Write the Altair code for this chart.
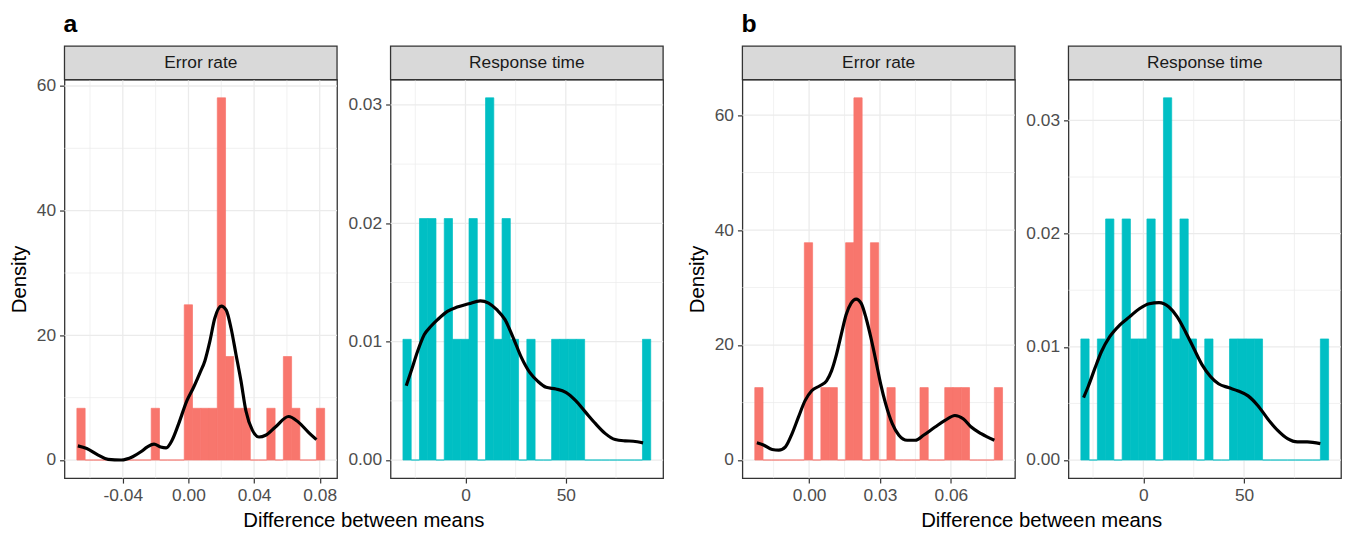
import altair as alt
import numpy as np
import pandas as pd

FONT = "Liberation Sans"
RED = "#F8766D"
TEAL = "#00BFC4"

# ---------------- data ----------------
facets = ["Error rate", "Response time"]
tags = ["a", "b"]
x_title = "Difference between means"
y_title = "Density"

# histogram: [first bin edge, last bin edge] (30 bins) and density height of each bin
a_err_range = [-0.0680, 0.0830]
a_err_heights = [8.3, 0, 0, 0, 0, 0, 0, 0, 0, 8.3, 0, 0, 0, 24.9, 8.3, 8.3, 8.3, 58.1, 16.6,
                 8.3, 8.3, 0, 0, 8.3, 0, 16.6, 8.3, 0, 0, 8.3]
a_rt_range = [-31.15, 92.3]
a_rt_heights = [0.0102, 0, 0.0204, 0.0204, 0, 0.0204, 0.0102, 0.0102, 0.0204, 0, 0.0306, 0.0102,
                0.0204, 0.0102, 0, 0.0102, 0, 0, 0.0102, 0.0102, 0.0102, 0.0102, 0, 0, 0, 0, 0, 0, 0,
                0.0102]
b_err_range = [-0.02297, 0.08186]
b_err_heights = [12.6, 0, 0, 0, 0, 0, 37.8, 0, 12.6, 12.6, 0, 37.8, 63.0, 0, 37.8, 0, 12.6, 0, 0, 0,
                 12.6, 0, 0, 12.6, 12.6, 12.6, 0, 0, 0, 12.6]
b_rt_range = [-31.05, 92.0]
b_rt_heights = [0.0107, 0, 0.0107, 0.0213, 0, 0.0213, 0.0107, 0.0107, 0.0213, 0, 0.0320, 0.0107,
                0.0213, 0.0107, 0, 0.0107, 0, 0, 0.0107, 0.0107, 0.0107, 0.0107, 0, 0, 0, 0, 0, 0, 0,
                0.0107]

# density curves
a_err_cx = [-0.0674, -0.062, -0.055, -0.049, -0.041, -0.034, -0.029, -0.025, -0.021, -0.017, -0.0136,
            -0.010, -0.006, -0.001, 0.003, 0.007, 0.010, 0.013, 0.016, 0.020, 0.023, 0.026, 0.029,
            0.032, 0.035, 0.039, 0.043, 0.047, 0.053, 0.061, 0.067, 0.073, 0.078]
a_err_cy = [2.27, 1.85, 0.79, 0.10, 0.0, 0.53, 1.32, 2.10, 2.54, 2.10, 1.96, 3.17, 5.8, 9.5, 11.6,
            14.0, 15.9, 19.0, 22.7, 24.7, 24.05, 21.1, 16.9, 12.7, 7.9, 4.76, 3.7, 3.97, 5.3, 6.98,
            6.08, 4.49, 3.28]
a_rt_cx = [-29.5, -27.0, -23.8, -20.5, -17.2, -13.9, -9.0, -4.1, 1.6, 7.4, 11.5, 15.6, 19.7, 23.8,
           27.9, 32.0, 36.1, 40.2, 45.1, 50.0, 54.9, 59.8, 64.8, 69.7, 74.6, 79.5, 83.6, 88.5]
a_rt_cy = [0.00628, 0.00754, 0.00921, 0.0106, 0.0113, 0.01186, 0.01256, 0.01292, 0.0132, 0.01345,
           0.01326, 0.0127, 0.01186, 0.01033, 0.00865, 0.0074, 0.00664, 0.00614, 0.006, 0.00572,
           0.00502, 0.00405, 0.00307, 0.00223, 0.00173, 0.00162, 0.00159, 0.00145]
b_err_cx = [-0.0221, -0.0191, -0.0156, -0.0128, -0.0100, -0.0072, -0.0045, -0.0017, 0.0011, 0.0046,
            0.0074, 0.0095, 0.0116, 0.0136, 0.0157, 0.0178, 0.0199, 0.0220, 0.0241, 0.0262, 0.0283,
            0.0303, 0.0324, 0.0352, 0.0380, 0.0415, 0.0450, 0.0484, 0.0533, 0.0575, 0.0617, 0.0652,
            0.0686, 0.0728, 0.0784]
b_err_cy = [2.99, 2.58, 1.84, 1.72, 2.30, 4.59, 7.46, 10.33, 12.06, 12.92, 13.78, 15.5, 18.37, 21.8,
            25.3, 27.3, 28.0, 27.3, 24.7, 21.2, 17.2, 13.2, 9.76, 6.32, 4.31, 3.44, 3.44, 4.31, 5.74,
            6.89, 7.75, 7.18, 5.74, 4.59, 3.44]
b_rt_cx = [-29.7, -27.3, -24.0, -20.8, -16.7, -11.8, -6.9, -2.0, 2.9, 7.8, 12.7, 16.8, 20.9, 25.0,
           29.1, 33.2, 37.3, 42.2, 47.1, 52.0, 56.9, 61.8, 66.7, 71.6, 76.5, 81.4, 87.9]
b_rt_cy = [0.00552, 0.00654, 0.00814, 0.00959, 0.0109, 0.01192, 0.01265, 0.01337, 0.01381, 0.0139,
           0.01352, 0.01265, 0.01134, 0.00988, 0.00843, 0.00741, 0.00674, 0.0064, 0.0061, 0.00567,
           0.0048, 0.00363, 0.00262, 0.00189, 0.0016, 0.0016, 0.00145]

# tick values (major, labelled) and minor grid values
a_err_xmajor, a_err_xminor = [-0.04, 0.0, 0.04, 0.08], [-0.06, -0.02, 0.02, 0.06]
b_err_xmajor, b_err_xminor = [0.0, 0.03, 0.06], [-0.015, 0.015, 0.045, 0.075]
rt_xmajor, rt_xminor = [0, 50], [-25, 25, 75]
err_ymajor, err_yminor = [0, 20, 40, 60], [10, 30, 50]
rt_ymajor, rt_yminor = [0.0, 0.01, 0.02, 0.03], [0.005, 0.015, 0.025]

# ---------------- layout constants ----------------
W, H = 275, 402
STRIP_H = 34
GRID = "#EBEBEB"


def panel(facet, rng, heights, cx, cy, color, xmaj, xmin, ymaj, ymin, xlabel_expr, ylabel_fmt,
          ytitle=None, tag=None, xtitle=None):
    lo, hi = rng
    edges = np.linspace(lo, hi, len(heights) + 1)
    bars = pd.DataFrame({"x0": edges[:-1], "x1": edges[1:], "h": heights})
    pad_x = 0.05 * (hi - lo)
    ymax = max(heights)
    xs = alt.Scale(domain=[lo - pad_x, hi + pad_x], nice=False, zero=False)
    ys = alt.Scale(domain=[-0.05 * ymax, 1.05 * ymax], nice=False, zero=False)

    xaxis = alt.Axis(values=xmaj, labelExpr=xlabel_expr, grid=False, title="")
    yaxis = alt.Axis(values=ymaj, format=ylabel_fmt, grid=False, title=ytitle if ytitle else "")

    def X(f):
        return alt.X(f, scale=xs, axis=xaxis)

    def Y(f):
        return alt.Y(f, scale=ys, axis=yaxis)

    vminor = alt.Chart(pd.DataFrame({"v": xmin})).mark_rule(color=GRID, strokeWidth=0.7).encode(
        x=X("v:Q"))
    hminor = alt.Chart(pd.DataFrame({"v": ymin})).mark_rule(color=GRID, strokeWidth=0.7).encode(
        y=Y("v:Q"))
    vmajor = alt.Chart(pd.DataFrame({"v": xmaj})).mark_rule(color=GRID, strokeWidth=1.3).encode(
        x=X("v:Q"))
    hmajor = alt.Chart(pd.DataFrame({"v": ymaj})).mark_rule(color=GRID, strokeWidth=1.3).encode(
        y=Y("v:Q"))

    hist = alt.Chart(bars).mark_rect(color=color, stroke=color, strokeWidth=0.7).encode(
        x=X("x0:Q"),
        x2="x1:Q",
        y=Y("h:Q"),
        y2=alt.datum(0),
    )
    curve = alt.Chart(pd.DataFrame({"x": cx, "y": cy})).mark_line(
        color="black", strokeWidth=3.2, interpolate="monotone").encode(
        x=X("x:Q"),
        y=Y("y:Q"),
    )

    lab = pd.DataFrame({"label": [facet]})
    strip_box = alt.Chart(lab).mark_rect(fill="#D9D9D9", stroke="#333333", strokeWidth=1.3).encode(
        x=alt.value(0), x2=alt.value(W), y=alt.value(-STRIP_H), y2=alt.value(0))
    strip_txt = alt.Chart(lab).mark_text(font=FONT, fontSize=17.5, color="#1A1A1A",
                                         baseline="middle", align="center").encode(
        text="label:N", x=alt.value(W / 2), y=alt.value(-STRIP_H / 2))

    layers = [vminor, hminor, vmajor, hmajor, hist, curve, strip_box, strip_txt]
    if tag:
        layers.append(alt.Chart(pd.DataFrame({"t": [tag]})).mark_text(
            font=FONT, fontSize=25, fontWeight="bold", color="black", align="left",
            baseline="alphabetic").encode(text="t:N", x=alt.value(-1), y=alt.value(-48.5)))
    if xtitle:
        layers.append(alt.Chart(pd.DataFrame({"t": [xtitle]})).mark_text(
            font=FONT, fontSize=20.5, color="black", align="center",
            baseline="alphabetic").encode(text="t:N", x=alt.value(302), y=alt.value(H + 49.5)))
    return alt.layer(*layers).properties(width=W, height=H)


dash_fix = "replace(format(datum.value, '.2f'), '\u2212', '-')"
int_lab = "format(datum.value, 'd')"

A1 = panel(facets[0], a_err_range, a_err_heights, a_err_cx, a_err_cy, RED,
           a_err_xmajor, a_err_xminor, err_ymajor, err_yminor, dash_fix, "d",
           ytitle=y_title, tag=tags[0], xtitle=x_title)
A2 = panel(facets[1], a_rt_range, a_rt_heights, a_rt_cx, a_rt_cy, TEAL,
           rt_xmajor, rt_xminor, rt_ymajor, rt_yminor, int_lab, ".2f")
B1 = panel(facets[0], b_err_range, b_err_heights, b_err_cx, b_err_cy, RED,
           b_err_xmajor, b_err_xminor, err_ymajor, err_yminor, dash_fix, "d",
           ytitle=y_title, tag=tags[1], xtitle=x_title)
B2 = panel(facets[1], b_rt_range, b_rt_heights, b_rt_cx, b_rt_cy, TEAL,
           rt_xmajor, rt_xminor, rt_ymajor, rt_yminor, int_lab, ".2f")

groupA = alt.hconcat(A1, A2, spacing=54, bounds="flush")
groupB = alt.hconcat(B1, B2, spacing=54, bounds="flush")

chart = alt.hconcat(groupA, groupB, spacing=21).properties(
    padding={"left": 0, "top": 0, "right": 0, "bottom": 0},
    background="white",
).configure_view(
    stroke="#333333", strokeWidth=1.3
).configure_axis(
    labelFont=FONT, labelFontSize=17.5, labelColor="#4D4D4D", labelPadding=4,
    tickColor="#333333", tickSize=5, tickWidth=1.2, domain=False,
    titleFont=FONT, titleFontSize=20.5, titleFontWeight="normal", titleColor="black",
    titlePadding=7,
)

chart.save("out.html", embed_options={"renderer": "svg", "actions": False})
